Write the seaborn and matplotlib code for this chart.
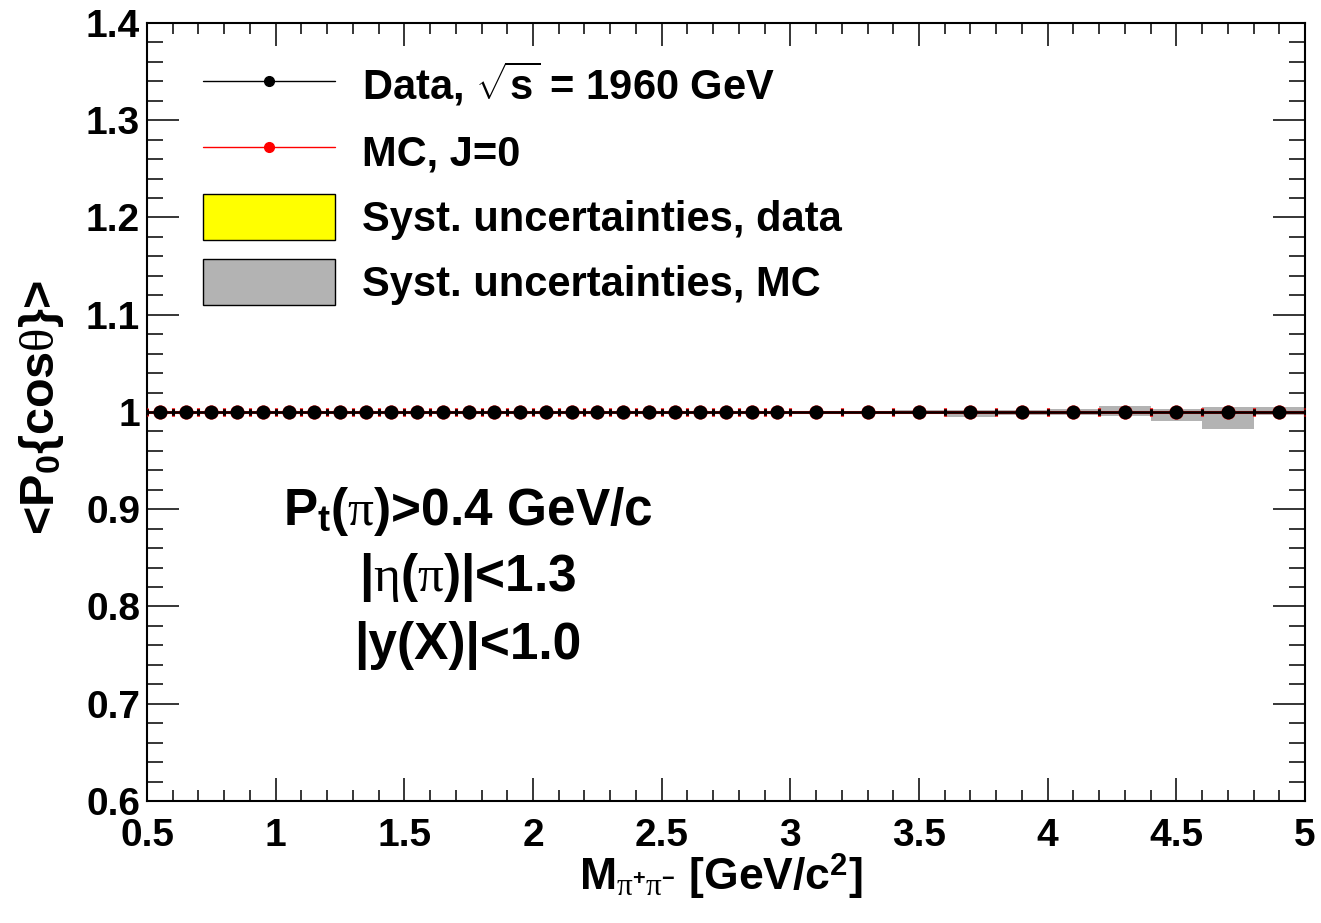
import numpy as np
import pandas as pd
import matplotlib
matplotlib.use("Agg")
import matplotlib.pyplot as plt
from matplotlib.lines import Line2D
from matplotlib.patches import Patch
from matplotlib.ticker import MultipleLocator, FuncFormatter
import seaborn as sns

# Bin centres and half-widths of the pi+pi- invariant mass [GeV/c^2]
mass = [0.55, 0.65, 0.75, 0.85, 0.95, 1.05, 1.15, 1.25, 1.35, 1.45,
        1.55, 1.65, 1.75, 1.85, 1.95, 2.05, 2.15, 2.25, 2.35, 2.45,
        2.55, 2.65, 2.75, 2.85, 2.95,
        3.1, 3.3, 3.5, 3.7, 3.9, 4.1, 4.3, 4.5, 4.7, 4.9]
half_width = [0.05] * 25 + [0.1] * 10

# <P0(cos theta)> for data and J=0 Monte Carlo
data_val = [1.0] * 35
mc_val = [1.0] * 35

# Systematic uncertainties (down / up)
syst_data = [0.0008] * 35
syst_mc_lo = [0.001] * 25 + [0.0012, 0.0012, 0.0021, 0.0053, 0.0030,
                             0.0033, 0.0041, 0.0089, 0.0179, 0.0031]
syst_mc_hi = [0.001] * 25 + [0.0012, 0.0012, 0.0021, 0.0023, 0.0023,
                             0.0029, 0.0065, 0.0027, 0.0054, 0.0054]

df = pd.DataFrame({"mass": mass, "hw": half_width, "data": data_val,
                   "mc": mc_val, "sd": syst_data,
                   "mlo": syst_mc_lo, "mhi": syst_mc_hi})

sns.set_theme(style="ticks")
plt.rcParams.update({
    "font.family": ["Liberation Sans", "DejaVu Sans"],
    "font.weight": "bold",
    "text.color": "black",
    "axes.labelcolor": "black",
    "xtick.color": "black",
    "ytick.color": "black",
    "axes.edgecolor": "black",
    "mathtext.fontset": "custom",
    "mathtext.rm": "Liberation Sans:bold",
    "mathtext.bf": "Liberation Sans:bold",
    "mathtext.sf": "Liberation Sans:bold",
    "mathtext.it": "Liberation Serif:normal",
    "mathtext.cal": "Liberation Serif:normal",
    "axes.linewidth": 1.5,
})

W, H = 1321, 923
fig = plt.figure(figsize=(W / 100, H / 100), dpi=100)
ax = fig.add_axes([147 / W, 1 - 801 / H, 1158 / W, 778 / H])

# Systematic bands
ax.bar(df["mass"], 2 * df["sd"], bottom=df["data"] - df["sd"],
       width=2 * df["hw"], color="yellow", linewidth=0, zorder=1)
ax.bar(df["mass"], df["mlo"] + df["mhi"], bottom=df["mc"] - df["mlo"],
       width=2 * df["hw"], color="#b3b3b3", linewidth=0, zorder=2)

# MC points (red), underneath the data
ax.errorbar(df["mass"], df["mc"], xerr=df["hw"], fmt="none", ecolor="red",
            elinewidth=2.2, capsize=2.6, capthick=2.2, zorder=3)
sns.scatterplot(data=df, x="mass", y="mc", color="red", s=105,
                linewidth=0, ax=ax, zorder=4, legend=False)

# Data points (black)
ax.errorbar(df["mass"], df["data"], xerr=df["hw"], fmt="none", ecolor="black",
            elinewidth=1.8, capsize=2.5, capthick=2.0, zorder=5)
sns.scatterplot(data=df, x="mass", y="data", color="black", s=100,
                linewidth=0, ax=ax, zorder=6, legend=False)

ax.set_xlim(0.5, 5.0)
ax.set_ylim(0.6, 1.4)
ax.set_xlabel("")
ax.set_ylabel("")

fmt = FuncFormatter(lambda v, p: "%g" % round(v, 3))
ax.xaxis.set_major_locator(MultipleLocator(0.5))
ax.xaxis.set_minor_locator(MultipleLocator(0.1))
ax.yaxis.set_major_locator(MultipleLocator(0.1))
ax.yaxis.set_minor_locator(MultipleLocator(0.02))
ax.xaxis.set_major_formatter(fmt)
ax.yaxis.set_major_formatter(fmt)
ax.tick_params(which="both", direction="in", top=True, right=True,
               width=1.1, color="black", labelcolor="black", labelsize=28)
ax.tick_params(axis="x", which="major", length=16.5, pad=12)
ax.tick_params(axis="x", which="minor", length=8)
ax.tick_params(axis="y", which="major", length=23, pad=5)
ax.tick_params(axis="y", which="minor", length=11.5)
for sp in ax.spines.values():
    sp.set_visible(True)
    sp.set_color("black")

# Legend
handles = [
    Line2D([], [], color="black", lw=1.0, marker="o", markersize=7),
    Line2D([], [], color="red", lw=1.0, marker="o", markersize=7),
    Patch(facecolor="yellow", edgecolor="black", linewidth=1),
    Patch(facecolor="#b3b3b3", edgecolor="black", linewidth=1),
]
labels = [r"Data, $\sqrt{\mathrm{s}}$ = 1960 GeV", "MC, J=0",
          "Syst. uncertainties, data", "Syst. uncertainties, MC"]
ax.legend(handles, labels, loc="upper left", bbox_to_anchor=(0.048, 0.952),
          frameon=False, fontsize=30, handlelength=3.17, handleheight=1.33,
          labelspacing=0.46, handletextpad=0.65, borderpad=0,
          borderaxespad=0, labelcolor="black")

# Kinematic cuts
cuts = [r"P$_{\mathrm{t}}$($\mathcal{\pi}$)>0.4 GeV/c",
        r"|$\mathcal{\eta}$($\mathcal{\pi}$)|<1.3",
        "|y(X)|<1.0"]
cut_y = [512, 578, 645]
for txt, yy in zip(cuts, cut_y):
    fig.text(468 / W, 1 - yy / H, txt, fontsize=37, ha="center", va="center")

# Axis titles
fig.text(721 / W, 1 - 876 / H,
         r"M$_{\mathcal{\pi}^{+}\mathcal{\pi}^{-}}$ [GeV/c$^{2}$]",
         fontsize=32, ha="center", va="center")
fig.text(42 / W, 1 - 408 / H, r"<P$_{0}${cos$\mathcal{\theta}$}>",
         fontsize=35, ha="center", va="center", rotation=90)

fig.savefig("out.png", dpi=100)
